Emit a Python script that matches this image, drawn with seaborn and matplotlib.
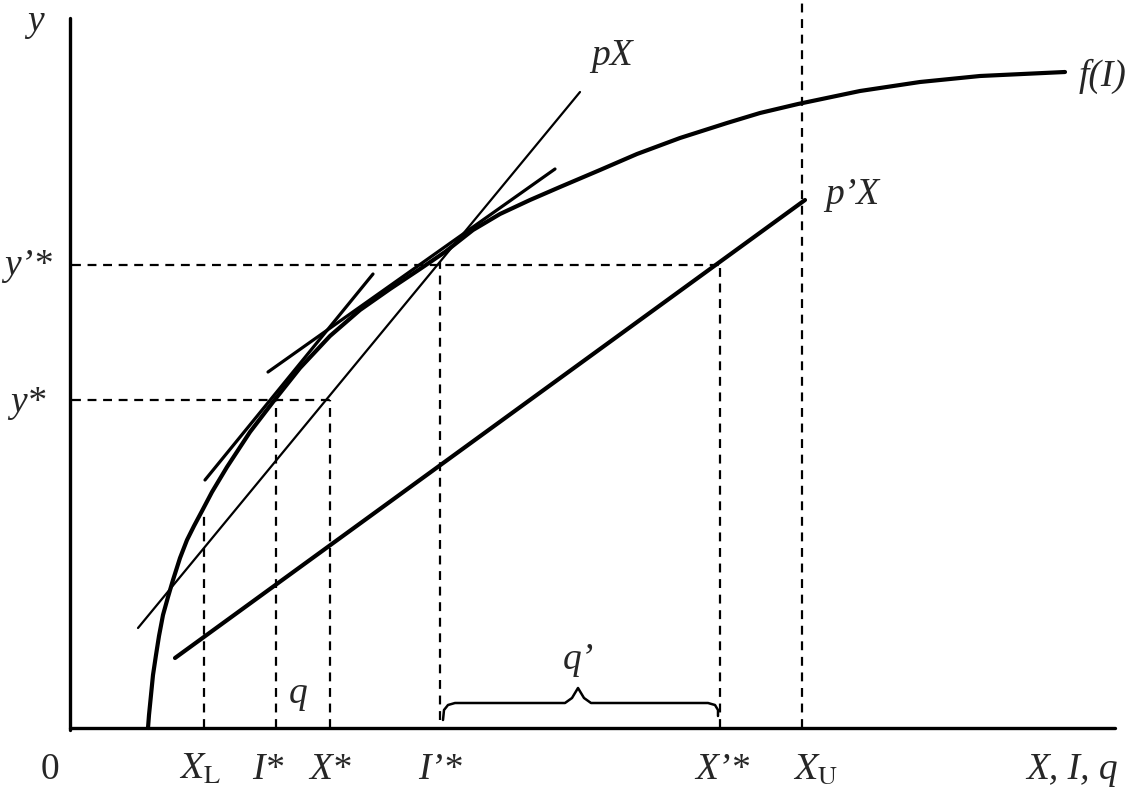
import numpy as np
import pandas as pd
import matplotlib
matplotlib.use("Agg")
import matplotlib.pyplot as plt
import seaborn as sns

# Diagram coordinates: origin at the corner of the axes
# Curve f(I)
F_X = [78, 79, 81, 83, 86, 89, 93, 98, 103, 110, 117, 124, 132, 142, 157, 180, 203,
       230, 260, 290, 320, 350, 375, 403, 430, 460, 490, 530, 567, 610, 657, 690,
       728, 790, 850, 910, 995]
F_Y = [0, 13, 33, 53, 73, 92, 113, 131, 148, 170, 188, 202, 217, 236, 261, 296,
       326, 360, 392, 418, 439, 459, 476, 498, 514, 528, 541, 558, 574, 590, 605,
       615, 624, 637, 646, 652, 656]

# straight lines (end points)
PX_X, PX_Y = [68, 510], [100, 636]            # pX
TAN1_X, TAN1_Y = [135, 303], [248, 454]       # tangent at I*
TAN2_X, TAN2_Y = [198, 485], [356, 559]       # tangent at I'*
PPX_X, PPX_Y = [105, 735], [70, 528]          # p'X

# dashed guide lines
V_X = [134, 206, 260, 370, 650, 732]          # X_L, I*, X*, I'*, X'*, X_U
V_TOP = [213, 328, 328, 466, 463, 728]
V_BOT = [0, 0, 0, 8, 0, 0]
H_Y = [463, 328]                              # y'*, y*
H_END = [650, 260]

# brace under q'
BR_X = [373, 374, 378, 385, 495, 502, 508, 514, 521, 638, 645, 648, 648]
BR_Y = [8, 18, 23, 25, 25, 30, 40, 30, 25, 25, 23, 18, 12]

X_LABELS = ["0", r"$X_{\mathrm{L}}$", "I*", "X*", "I\u2019*", "X\u2019*",
            r"$X_{\mathrm{U}}$", "X, I, q"]
X_LABEL_POS = [-20, 130, 198, 260, 370, 652, 745, 1002]
Y_LABELS = ["y\u2019*", "y*"]
Y_LABEL_POS = [462, 325]

sns.set_theme(style="white")
plt.rcParams["mathtext.fontset"] = "stix"
plt.rcParams["font.family"] = ["Liberation Serif", "DejaVu Serif"]

fig = plt.figure(figsize=(11.35, 7.94), dpi=100)
ax = fig.add_axes([0, 0, 1, 1])
ax.set_xlim(-70, 1065)
ax.set_ylim(-66, 728)
ax.axis("off")

K = "black"

def linea(x, y, lw, **kw):
    sns.lineplot(x=x, y=y, ax=ax, color=K, linewidth=lw, sort=False,
                 estimator=None, legend=False, **kw)

# axes
linea([0, 0], [-2, 710], 2.4)
linea([0, 1045], [0, 0], 2.4)

# curve and lines
linea(F_X, F_Y, 3.0, solid_capstyle="round", solid_joinstyle="round")
linea(PX_X, PX_Y, 1.6)
linea(TAN1_X, TAN1_Y, 2.3, solid_capstyle="round")
linea(TAN2_X, TAN2_Y, 2.3, solid_capstyle="round")
linea(PPX_X, PPX_Y, 3.0, solid_capstyle="round")

# dashed guides
for x, t, b in zip(V_X, V_TOP, V_BOT):
    linea([x, x], [b, t], 1.6, dashes=(4, 3))
for y, e in zip(H_Y, H_END):
    linea([2, e], [y, y], 1.6, dashes=(4, 3))

# brace
linea(BR_X, BR_Y, 1.8)

fs = 27
def etiqueta(x, y, s):
    st = "normal" if s == "0" or s.startswith("$") else "italic"
    ax.text(x, y, s, fontsize=fs, ha="center", va="center", style=st)

for lab, x in zip(X_LABELS, X_LABEL_POS):
    etiqueta(x, -42, lab)
for lab, y in zip(Y_LABELS, Y_LABEL_POS):
    etiqueta(-42, y, lab)
etiqueta(-35, 706, "y")
etiqueta(228, 34, "q")
etiqueta(508, 68, "q\u2019")
etiqueta(542, 672, "pX")
etiqueta(782, 533, "p\u2019X")
etiqueta(1033, 652, "f(I)")

fig.savefig("out.png", dpi=100, facecolor="white")
